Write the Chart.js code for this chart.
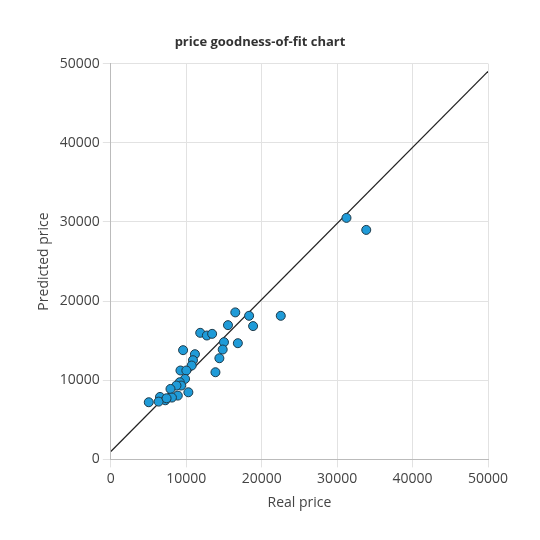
<!DOCTYPE html>
<html><head><meta charset="utf-8">
<script src="https://cdn.jsdelivr.net/npm/chart.js@4"></script>
<style>html,body{margin:0;background:#fff}#wrap{width:540px;height:540px}</style>
</head><body><div id="wrap"><canvas id="c"></canvas></div>
<script>
const realPrice = [16500,18330,22530,15530,18860,11850,12730,13430,15000,16840,14830,9580,11150,10890,14390,10720,9230,10010,13870,9840,9140,9320,8700,7910,10280,8880,8100,6520,7220,6340,5030,7390,31240,33860];
const predPrice = [18570,18140,18140,16960,16840,15990,15650,15860,14810,14680,13880,13800,13290,12530,12780,11860,11230,11230,11010,10170,9750,9330,9330,8900,8480,8060,7810,7890,7470,7300,7220,7720,30510,28990];
const fitX = [0, 50000];
const fitY = [1000, 49000];
const ticks = [0,10000,20000,30000,40000,50000];

new Chart(document.getElementById('c'), {
  type: 'scatter',
  data: { datasets: [
    { data: realPrice.map((x,i)=>({x, y: predPrice[i]})), backgroundColor: '#1f9bd8', borderColor: '#1d3a4a', borderWidth: 1, pointRadius: 4.5 },
    { type: 'line', data: fitX.map((x,i)=>({x, y: fitY[i]})), borderColor: '#222', borderWidth: 1.2, pointRadius: 0 }
  ]},
  options: {
    responsive: true, maintainAspectRatio: false, animation: false,
    layout: { padding: { left: 32, right: 52, top: 34, bottom: 25 } },
    plugins: {
      legend: { display: false },
      title: { display: true, text: 'price goodness-of-fit chart', color: '#333', font: { family: 'Open Sans', size: 13, weight: 'bold' }, padding: { left: 20, bottom: 14 } }
    },
    scales: {
      x: { min: 0, max: 50000, afterBuildTicks: a => a.ticks = ticks.map(v=>({value:v})),
           ticks: { color: '#444', font: { family: 'Open Sans', size: 14 }, callback: v => String(v) }, grid: { color: '#e2e2e2' },
           border: { color: '#bbb' },
           title: { display: true, text: 'Real price', color: '#444', font: { family: 'Open Sans', size: 14 } } },
      y: { min: 0, max: 50000, afterBuildTicks: a => a.ticks = ticks.map(v=>({value:v})),
           ticks: { color: '#444', font: { family: 'Open Sans', size: 14 }, callback: v => String(v) }, grid: { color: '#e2e2e2' },
           border: { color: '#bbb' },
           title: { display: true, text: 'Predicted price', color: '#444', font: { family: 'Open Sans', size: 14 } } }
    }
  }
});
</script></body></html>
